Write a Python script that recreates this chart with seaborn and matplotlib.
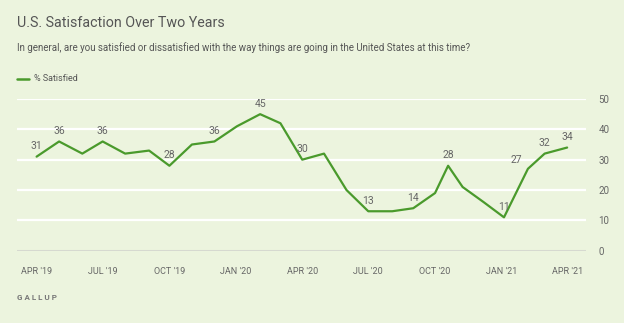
import matplotlib
matplotlib.use("Agg")
import matplotlib.pyplot as plt
import seaborn as sns
import pandas as pd

# Monthly poll readings, % satisfied with the way things are going in the U.S.
poll_dates = [
    "2019-04-01", "2019-05-02", "2019-06-03", "2019-07-01", "2019-08-01",
    "2019-09-03", "2019-10-01", "2019-11-01", "2019-12-02", "2020-01-02",
    "2020-02-03", "2020-03-02", "2020-04-01", "2020-05-01", "2020-06-01",
    "2020-07-01", "2020-08-03", "2020-09-01", "2020-10-01", "2020-10-19",
    "2020-11-08", "2020-12-07", "2021-01-04", "2021-02-06", "2021-03-01",
    "2021-04-01",
]
pct_satisfied = [31, 36, 32, 36, 32, 33, 28, 35, 36, 41, 45, 42, 30, 32, 20,
                 13, 13, 14, 19, 28, 21, 16, 11, 27, 32, 34]

# Readings that carry a value label
labeled_dates = ["2019-04-01", "2019-05-02", "2019-07-01", "2019-10-01",
                 "2019-12-02", "2020-02-03", "2020-04-01", "2020-07-01",
                 "2020-09-01", "2020-10-19", "2021-01-04", "2021-02-06",
                 "2021-03-01", "2021-04-01"]

tick_dates = ["2019-04-01", "2019-07-01", "2019-10-01", "2020-01-01",
              "2020-04-01", "2020-07-01", "2020-10-01", "2021-01-01",
              "2021-04-01"]
tick_labels = ["APR '19", "JUL '19", "OCT '19", "JAN '20", "APR '20",
               "JUL '20", "OCT '20", "JAN '21", "APR '21"]
y_ticks = [0, 10, 20, 30, 40, 50]

series_name = "% Satisfied"

df = pd.DataFrame({"date": pd.to_datetime(poll_dates), "value": pct_satisfied})

BG = "#ECF4DE"
GREEN = "#4A9A2C"
TEXT = "#666666"

sns.set_theme(style="white")
plt.rcParams["font.family"] = ["Roboto", "DejaVu Sans"]

fig = plt.figure(figsize=(6.24, 3.23), dpi=100, facecolor=BG)
ax = fig.add_axes([17 / 624, 72.3 / 323, 569 / 624, 151.7 / 323])
ax.set_facecolor(BG)

sns.lineplot(data=df, x="date", y="value", ax=ax, color=GREEN,
             linewidth=1.6, legend=False)

ax.set_ylim(0, 50)
ax.set_xlim(pd.Timestamp("2019-03-05"), pd.Timestamp("2021-04-27"))

# Horizontal white gridlines and a grey baseline
for v in y_ticks[1:]:
    ax.axhline(v, color="white", linewidth=1.6, zorder=0)
ax.axhline(0, color="#D6D9D0", linewidth=2.2, zorder=1)

for s in ax.spines.values():
    s.set_visible(False)

ax.yaxis.tick_right()
ax.set_yticks(y_ticks)
ax.set_yticklabels([str(v) for v in y_ticks])
ax.tick_params(axis="y", length=0, pad=9, labelsize=7, labelcolor=TEXT)

ax.set_xticks(pd.to_datetime(tick_dates))
ax.set_xticklabels(tick_labels)
ax.tick_params(axis="x", length=7, width=1.3, color="white", direction="out",
               pad=5, labelsize=6.5, labelcolor=TEXT)
ax.set_xlabel("")
ax.set_ylabel("")

# Value labels
offsets = {"2021-02-06": (-8, 3)}
for d, v in zip(poll_dates, pct_satisfied):
    if d in labeled_dates:
        dx, dy = offsets.get(d, (0, 4))
        ax.annotate(str(v), (pd.Timestamp(d), v), xytext=(dx, dy),
                    textcoords="offset points", ha="center", va="bottom",
                    fontsize=7.5, color=TEXT)

# Header, legend and source
fig.text(17 / 624, 1 - 23 / 323, "U.S. Satisfaction Over Two Years",
         fontsize=10.3, color="#555555", va="center", ha="left")
fig.text(17 / 624, 1 - 48 / 323,
         "In general, are you satisfied or dissatisfied with the way things "
         "are going in the United States at this time?",
         fontsize=7.0, color="#555555", va="center", ha="left")
fig.add_artist(plt.Line2D([17 / 624, 29 / 624], [1 - 78.5 / 323] * 2,
                          color=GREEN, linewidth=1.8,
                          transform=fig.transFigure))
fig.text(34 / 624, 1 - 78.5 / 323, series_name, fontsize=6.5, color="#555555",
         va="center", ha="left")
fig.text(17 / 624, 1 - 297 / 323, "G A L L U P", fontsize=5.8,
         color="#777777", va="center", ha="left", fontweight="bold")

fig.savefig("out.png", dpi=100, facecolor=BG)
